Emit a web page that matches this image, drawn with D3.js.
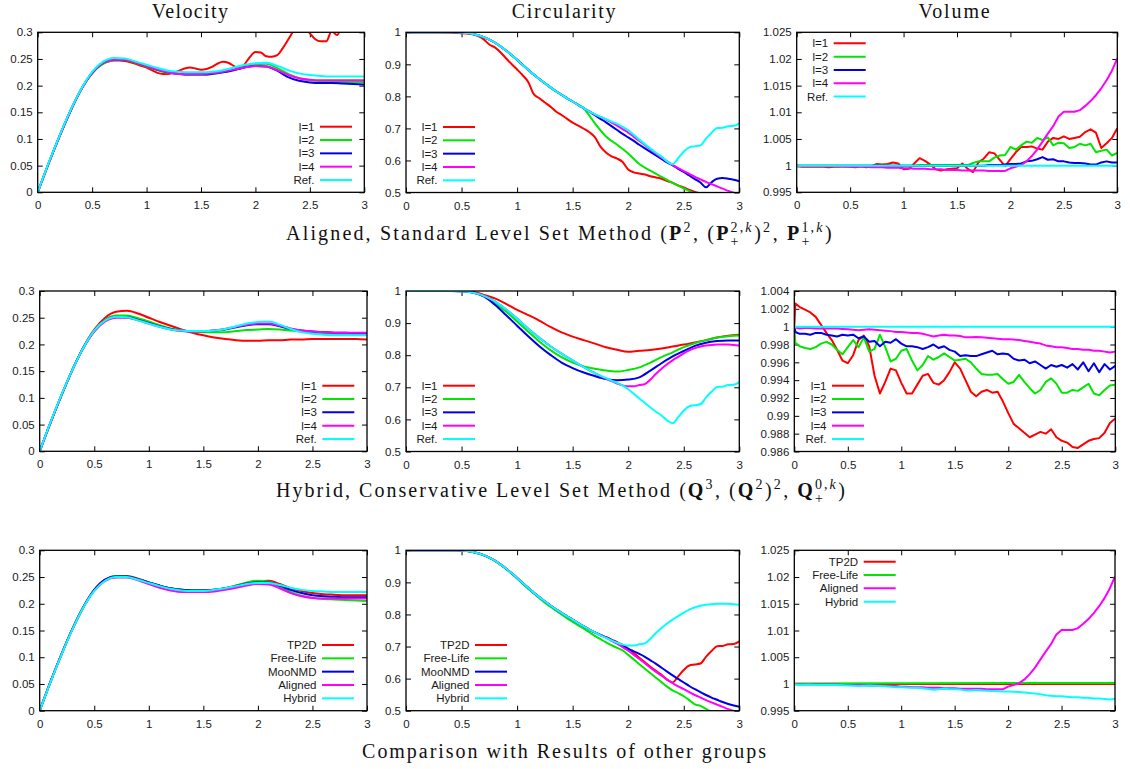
<!DOCTYPE html>
<html>
<head>
<meta charset="utf-8">
<script src="https://cdn.jsdelivr.net/npm/d3@7"></script>
<style>
  body { margin: 0; background: #fff; }
  text { white-space: pre; }
</style>
</head>
<body>
<svg id="chart" width="1130" height="769"></svg>
<script>

//Time grids (x values)
var tCoarse = [0,0.1,0.2,0.3,0.4,0.5,0.6,0.7,0.8,0.9,1,1.1,1.2,1.3,1.4,1.5,1.6,1.7,1.8,1.9,2,2.1,2.2,2.3,2.4,2.5,2.6,2.7,2.8,2.9,3];
var tFine = [0,0.05,0.1,0.15,0.2,0.25,0.3,0.35,0.4,0.45,0.5,0.55,0.6,0.65,0.7,0.75,0.8,0.85,0.9,0.95,
  1,1.05,1.1,1.15,1.2,1.25,1.3,1.35,1.4,1.45,1.5,1.55,1.6,1.65,1.7,1.75,1.8,1.85,1.9,1.95,
  2,2.05,2.1,2.15,2.2,2.25,2.3,2.35,2.4,2.45,2.5,2.55,2.6,2.65,2.7,2.75,2.8,2.85,2.9,2.95,3];
var tHyb = [0,0.01,0.05,0.1,0.15,0.2,0.25,0.3,0.35,0.4,0.45,0.5,0.55,0.6,0.65,0.7,0.75,0.8,0.85,0.9,0.95,
  1,1.05,1.1,1.15,1.2,1.25,1.3,1.35,1.4,1.45,1.5,1.55,1.6,1.65,1.7,1.75,1.8,1.85,1.9,1.95,
  2,2.05,2.1,2.15,2.2,2.25,2.3,2.35,2.4,2.45,2.5,2.55,2.6,2.65,2.7,2.75,2.8,2.85,2.9,2.95,3];
var tEnds = [0,3];

//Tick values
var xTicks = [0,0.5,1,1.5,2,2.5,3];
var velTicks = [0,0.05,0.1,0.15,0.2,0.25,0.3];
var circTicks = [0.5,0.6,0.7,0.8,0.9,1];
var volAlignedTicks = [0.995,1,1.005,1.01,1.015,1.02,1.025];
var volHybridTicks = [0.986,0.988,0.99,0.992,0.994,0.996,0.998,1,1.002,1.004];

//Velocity, aligned (tFine for l=1, tCoarse for the rest)
var velAlignedL1 = [0,0.027,0.054,0.08,0.105,0.129,0.152,0.173,0.193,0.21,
  0.223,0.234,0.241,0.245,0.247,0.247,0.246,0.244,0.241,0.237,
  0.234,0.229,0.224,0.222,0.222,0.224,0.228,0.232,0.234,0.232,
  0.230,0.231,0.235,0.241,0.245,0.243,0.237,0.231,0.240,0.254,
  0.263,0.262,0.255,0.254,0.257,0.270,0.286,0.303,0.318,0.312,
  0.298,0.287,0.283,0.283,0.302,0.295,0.315,0.330,0.340,0.345,0.350];
var velAlignedL2 = [0,0.054,0.105,0.152,0.193,0.223,0.241,0.248,0.248,0.243,0.236,0.229,0.224,0.222,0.221,0.221,0.222,0.225,0.230,0.236,0.240,0.241,0.233,0.222,0.214,0.210,0.208,0.207,0.207,0.207,0.207];
var velAlignedL3 = [0,0.054,0.105,0.152,0.193,0.224,0.243,0.249,0.249,0.244,0.237,0.230,0.225,0.222,0.221,0.221,0.222,0.225,0.229,0.234,0.237,0.236,0.228,0.216,0.209,0.206,0.205,0.205,0.204,0.203,0.202];
var velAlignedL4 = [0,0.054,0.105,0.152,0.193,0.224,0.243,0.249,0.249,0.244,0.237,0.230,0.225,0.222,0.222,0.222,0.223,0.226,0.230,0.234,0.237,0.236,0.229,0.220,0.214,0.211,0.210,0.210,0.210,0.210,0.210];
var velRef = [0,0.055,0.106,0.153,0.194,0.226,0.245,0.252,0.251,0.245,0.239,0.233,0.228,0.226,0.225,0.225,0.226,0.229,0.234,0.239,0.242,0.243,0.237,0.229,0.223,0.220,0.218,0.217,0.217,0.217,0.217];

//Velocity, hybrid (tCoarse)
var velHybridL1 = [0,0.054,0.105,0.153,0.195,0.228,0.250,0.261,0.263,0.258,0.250,0.242,0.235,0.228,0.222,0.217,0.213,0.210,0.208,0.207,0.207,0.208,0.208,0.209,0.209,0.210,0.210,0.210,0.210,0.210,0.209];
var velHybridL2 = [0,0.054,0.105,0.153,0.194,0.226,0.246,0.254,0.254,0.249,0.243,0.236,0.230,0.226,0.224,0.223,0.223,0.223,0.225,0.227,0.228,0.229,0.228,0.226,0.224,0.222,0.221,0.220,0.219,0.219,0.218];
var velHybridL3 = [0,0.054,0.105,0.153,0.194,0.225,0.245,0.252,0.251,0.246,0.240,0.234,0.229,0.226,0.225,0.225,0.226,0.228,0.232,0.236,0.238,0.238,0.234,0.229,0.226,0.224,0.223,0.222,0.222,0.221,0.221];
var velHybridL4 = [0,0.054,0.105,0.152,0.193,0.224,0.243,0.250,0.250,0.245,0.239,0.233,0.228,0.225,0.224,0.224,0.226,0.229,0.233,0.237,0.239,0.239,0.235,0.230,0.226,0.224,0.223,0.222,0.222,0.222,0.222];

//Velocity, other groups (tCoarse)
var velTP2D = [0,0.055,0.106,0.153,0.194,0.226,0.245,0.252,0.252,0.247,0.240,0.234,0.229,0.226,0.225,0.225,0.226,0.229,0.234,0.239,0.242,0.243,0.237,0.229,0.224,0.220,0.218,0.217,0.216,0.216,0.216];
var velFreeLife = [0,0.055,0.106,0.153,0.194,0.226,0.245,0.252,0.251,0.246,0.240,0.234,0.229,0.226,0.225,0.225,0.226,0.229,0.234,0.240,0.243,0.241,0.232,0.222,0.215,0.211,0.209,0.208,0.207,0.206,0.205];
var velMooNMD = [0,0.055,0.106,0.153,0.194,0.226,0.245,0.251,0.251,0.246,0.240,0.234,0.229,0.226,0.225,0.225,0.226,0.229,0.233,0.238,0.240,0.240,0.234,0.226,0.220,0.216,0.214,0.213,0.212,0.212,0.212];

//Circularity (tFine unless noted)
var circRef = [1,1,1,1,1,1,1,1,1,1,
  0.999,0.998,0.995,0.991,0.985,0.977,0.968,0.956,0.943,0.929,
  0.914,0.898,0.883,0.868,0.854,0.841,0.828,0.816,0.805,0.794,
  0.784,0.773,0.763,0.753,0.744,0.736,0.729,0.721,0.714,0.705,
  0.694,0.680,0.665,0.651,0.637,0.624,0.612,0.597,0.588,0.607,
  0.627,0.641,0.644,0.647,0.668,0.686,0.701,0.702,0.707,0.708,0.716];
var circAlignedL1 = [1,1,1,1,1,1,1,1,0.999,0.998,
  0.997,0.996,0.994,0.988,0.978,0.962,0.953,0.938,0.919,0.901,
  0.884,0.866,0.845,0.807,0.794,0.781,0.768,0.753,0.742,0.730,
  0.718,0.709,0.699,0.688,0.673,0.643,0.625,0.613,0.606,0.595,
  0.572,0.563,0.559,0.556,0.551,0.547,0.543,0.536,0.530,0.522,
  0.516,0.508,0.502,0.497,0.492,0.488,0.484,0.480,0.476,0.472,0.468];
var circAlignedL2 = [1,1,1,1,1,0.999,0.995,0.985,0.968,0.943,0.914,0.883,0.854,0.828,0.805,0.784,0.762,0.716,0.675,0.649,0.622,0.589,0.568,0.549,0.530,0.513,0.496,0.482,0.470,0.460,0.450]; // tCoarse
var circAlignedL3 = [1,1,1,1,1,1,1,1,1,1,
  0.999,0.998,0.995,0.991,0.985,0.977,0.968,0.956,0.943,0.929,
  0.914,0.898,0.883,0.868,0.854,0.841,0.828,0.816,0.805,0.794,
  0.784,0.773,0.763,0.753,0.741,0.730,0.719,0.707,0.695,0.683,
  0.672,0.661,0.649,0.638,0.627,0.616,0.605,0.594,0.585,0.574,
  0.564,0.553,0.542,0.531,0.516,0.532,0.543,0.545,0.543,0.540,0.535];
var circAlignedL4 = [1,1,1,1,1,1,1,1,1,1,
  0.999,0.998,0.995,0.991,0.985,0.977,0.968,0.956,0.943,0.929,
  0.914,0.898,0.883,0.868,0.854,0.841,0.828,0.816,0.805,0.794,
  0.784,0.773,0.763,0.753,0.744,0.736,0.728,0.718,0.709,0.698,
  0.687,0.674,0.661,0.648,0.634,0.621,0.609,0.597,0.586,0.576,
  0.567,0.558,0.549,0.541,0.533,0.526,0.519,0.512,0.505,0.499,0.493];
var circHybridL1 = [1,1,1,1,1,1,0.998,0.988,0.977,0.960,0.941,0.925,0.908,0.888,0.871,0.858,0.847,0.836,0.825,0.817,0.811,0.814,0.816,0.821,0.827,0.833,0.840,0.847,0.855,0.861,0.864]; // tCoarse
var circHybridL2 = [1,1,1,1,1,0.999,0.995,0.984,0.962,0.936,0.905,0.873,0.843,0.816,0.794,0.777,0.765,0.758,0.752,0.749,0.754,0.762,0.777,0.794,0.809,0.825,0.837,0.847,0.855,0.859,0.861]; // tCoarse
var circHybridL3 = [1,1,1,1,1,0.999,0.995,0.983,0.957,0.925,0.892,0.859,0.828,0.801,0.777,0.760,0.746,0.735,0.726,0.722,0.724,0.731,0.752,0.775,0.796,0.813,0.829,0.839,0.844,0.846,0.846]; // tCoarse
var circHybridL4 = [1,1,1,1,1,1,1,1,1,1,
  0.999,0.998,0.995,0.991,0.985,0.977,0.968,0.956,0.943,0.929,
  0.914,0.898,0.883,0.868,0.854,0.841,0.828,0.816,0.805,0.794,
  0.784,0.773,0.763,0.753,0.744,0.735,0.727,0.719,0.712,0.706,
  0.703,0.703,0.707,0.710,0.724,0.742,0.758,0.772,0.784,0.795,
  0.806,0.815,0.822,0.827,0.830,0.832,0.833,0.833,0.833,0.832,0.830];
var circFreeLife = [1,1,1,1,1,1,1,1,1,1,
  0.999,0.998,0.995,0.990,0.984,0.976,0.967,0.955,0.942,0.927,
  0.912,0.896,0.880,0.865,0.851,0.837,0.824,0.812,0.800,0.788,
  0.777,0.766,0.756,0.745,0.733,0.723,0.713,0.704,0.696,0.688,
  0.674,0.660,0.645,0.631,0.617,0.603,0.589,0.575,0.563,0.555,
  0.545,0.533,0.520,0.515,0.506,0.497,0.490,0.483,0.476,0.470,0.464];
var circMooNMD = [1,1,1,1,1,1,1,1,1,1,
  0.999,0.998,0.995,0.991,0.985,0.977,0.968,0.956,0.943,0.929,
  0.914,0.898,0.883,0.868,0.854,0.841,0.828,0.816,0.805,0.794,
  0.784,0.773,0.763,0.753,0.744,0.736,0.729,0.721,0.712,0.702,
  0.693,0.685,0.677,0.668,0.657,0.646,0.634,0.622,0.610,0.599,
  0.588,0.577,0.567,0.558,0.549,0.541,0.534,0.527,0.521,0.516,0.512];

//Volume, aligned (tFine)
var volAlignedL1 = [0.9999,0.9998,0.9998,0.9998,0.9998,0.9998,0.9997,0.9998,0.9998,0.9999,
  0.9998,0.9997,0.9999,0.9997,0.9999,1.0003,1.0002,1.0003,1.0006,1.0004,
  0.9993,0.9994,1.0004,1.0014,1.0009,1.0002,0.9993,0.9991,0.9993,0.9994,
  0.9995,1.0004,0.9994,0.9988,1.0006,1.0013,1.0025,1.0023,1.0011,0.9999,
  1.0012,1.0025,1.0035,1.0035,1.0036,1.0032,1.0030,1.0045,1.0052,1.0050,
  1.0055,1.0050,1.0052,1.0054,1.0063,1.0068,1.0062,1.0033,1.0042,1.0052,1.0070];
var volAlignedL2 = [1,1,1,1,1,1,1,1,1,1,
  1,1,1,1,1,1,1,1,1,1,
  1,1,1,1.0001,1.0001,1.0001,1.0001,1.0001,1.0001,1.0001,
  1.0001,1.0001,1.0001,1.0005,1.0008,1.0008,1.0008,1.0015,1.0019,1.0020,
  1.0035,1.0030,1.0038,1.0045,1.0043,1.0052,1.0048,1.0053,1.0038,1.0043,
  1.0042,1.0033,1.0035,1.0041,1.0038,1.0041,1.0025,1.0028,1.0030,1.0019,1.0024];
var volAlignedL3 = [1,1,1,1,1,1,1,1,1,1,
  1,1,1,1,1,1,1,1,1,1,
  1,1,1,1,1,1,1,1,1,1,
  1,1,1,1,1,1,1.0001,1.0001,1.0001,1.0002,
  1.0003,1.0003,1.0004,1.0008,1.0009,1.0012,1.0016,1.0011,1.0012,1.0008,
  1.0008,1.0006,1.0005,1.0005,1.0004,1.0002,1.0002,1.0006,1.0008,1.0006,1.0006];
var volAlignedL4 = [1,0.9999,0.9999,0.9999,0.9999,0.9999,0.9999,0.9999,0.9999,0.9998,
  0.9998,0.9998,0.9998,0.9998,0.9997,0.9997,0.9997,0.9996,0.9996,0.9996,
  0.9995,0.9995,0.9994,0.9994,0.9994,0.9993,0.9993,0.9993,0.9992,0.9992,
  0.9992,0.9991,0.9991,0.9991,0.9991,0.9991,0.9990,0.9990,0.9990,0.9990,
  0.9995,0.9998,1.0001,1.0008,1.0018,1.0030,1.0045,1.0060,1.0074,1.0092,
  1.0101,1.0101,1.0101,1.0104,1.0112,1.0121,1.0132,1.0145,1.0160,1.0178,1.0201];
var volRef = [1,1]; // tEnds

//Volume, hybrid (tHyb)
var volHybridL1 = [1.0,1.0026,1.0022,
  1.0019,1.0016,1.0011,1.0002,0.9993,0.9985,0.9974,0.9962,0.9959,0.9968,
  0.9985,0.9990,0.9978,0.9945,0.9925,0.9938,0.9953,0.9951,0.9937,0.9925,
  0.9925,0.9935,0.9945,0.9947,0.9937,0.9935,0.9940,0.9949,0.9960,0.9953,
  0.9940,0.9927,0.9922,0.9927,0.9929,0.9926,0.9927,0.9916,0.9903,0.9891,
  0.9886,0.9881,0.9876,0.9879,0.9882,0.9880,0.9885,0.9876,0.9872,0.9870,
  0.9865,0.9864,0.9868,0.9872,0.9874,0.9875,0.9881,0.9892,0.9897];
var volHybridL2 = [1.0,0.9982,0.9978,
  0.9976,0.9975,0.9977,0.9981,0.9983,0.9980,0.9974,0.9969,0.9977,0.9985,
  0.9977,0.9988,0.9972,0.9975,0.9991,0.9977,0.9961,0.9964,0.9973,0.9975,
  0.9962,0.9951,0.9957,0.9967,0.9963,0.9966,0.9970,0.9966,0.9962,0.9963,
  0.9964,0.9960,0.9953,0.9947,0.9946,0.9946,0.9947,0.9941,0.9936,0.9938,
  0.9946,0.9938,0.9931,0.9925,0.9929,0.9938,0.9942,0.9936,0.9926,0.9926,
  0.9929,0.9928,0.9932,0.9936,0.9925,0.9923,0.9929,0.9934,0.9935];
var volHybridL3 = [1.0,0.9994,0.9992,
  0.9992,0.9991,0.9993,0.9993,0.9991,0.9990,0.9989,0.9991,0.9990,0.9991,
  0.9987,0.9989,0.9983,0.9984,0.9978,0.9983,0.9982,0.9986,0.9981,0.9978,
  0.9978,0.9977,0.9975,0.9977,0.9980,0.9976,0.9978,0.9974,0.9972,0.9967,
  0.9968,0.9967,0.9967,0.9969,0.9971,0.9973,0.9969,0.9970,0.9969,0.9964,
  0.9962,0.9963,0.9959,0.9961,0.9957,0.9953,0.9957,0.9955,0.9957,0.9954,
  0.9958,0.9952,0.9960,0.9950,0.9959,0.9949,0.9958,0.9952,0.9956];
var volHybridL4 = [1.0,0.9999,0.9998,
  0.99985,0.99985,0.9998,0.9998,0.9998,0.9998,0.9998,0.99975,0.9997,0.99965,
  0.9996,0.99965,0.9997,0.99965,0.9996,0.99955,0.9995,0.9994,0.9994,0.99935,
  0.9993,0.9993,0.9992,0.99905,0.9989,0.9990,0.9991,0.9990,0.9990,0.99895,
  0.9988,0.9988,0.99885,0.9988,0.99875,0.9987,0.99865,0.9986,0.9986,0.99855,
  0.9985,0.9984,0.9983,0.9982,0.9981,0.9979,0.9978,0.9977,0.9977,0.9976,
  0.9975,0.9975,0.9974,0.9974,0.9973,0.9973,0.9972,0.9971,0.9972];

//Volume, other groups (tEnds)
var volTP2D = [1,1];
var volFreeLife = [1.0001,1.0002];

//Colors, gnuplot style
var red = "#ff0000", green = "#00e600", blue = "#0000e6", magenta = "#ff00ff", cyan = "#00ffff";

var levelLabels = ["l=1","l=2","l=3","l=4","Ref."];

function levels(t1, v1, t2, v2, t3, v3, t4, v4, t5, v5){
  var c = [red, green, blue, magenta, cyan];
  var tt = [t1,t2,t3,t4,t5], vv = [v1,v2,v3,v4,v5];
  return levelLabels.map(function(l, i){ return {label: l, color: c[i], t: tt[i], v: vv[i]}; });
}

var smooth = d3.curveMonotoneX, linear = d3.curveLinear;

var panels = [
  {x0: 37.7, x1: 364.3, y0: 32.3, y1: 192.3, yDomain: [0,0.3], yTicks: velTicks, curve: smooth,
   legend: {lineEnd: 314.3, firstRow: 94.4},
   series: levels(tFine, velAlignedL1, tCoarse, velAlignedL2, tCoarse, velAlignedL3, tCoarse, velAlignedL4, tCoarse, velRef)},
  {x0: 406, x1: 739.3, y0: 32.3, y1: 192.5, yDomain: [0.5,1], yTicks: circTicks, curve: smooth,
   legend: {lineEnd: 69, firstRow: 94.7},
   series: levels(tFine, circAlignedL1, tCoarse, circAlignedL2, tFine, circAlignedL3, tFine, circAlignedL4, tFine, circRef)},
  {x0: 796.7, x1: 1117.3, y0: 32.3, y1: 192.3, yDomain: [0.995,1.025], yTicks: volAlignedTicks, curve: linear,
   legend: {lineEnd: 69, firstRow: 11},
   series: levels(tFine, volAlignedL1, tFine, volAlignedL2, tFine, volAlignedL3, tFine, volAlignedL4, tEnds, volRef)},

  {x0: 39.7, x1: 367, y0: 291, y1: 451.3, yDomain: [0,0.3], yTicks: velTicks, curve: smooth,
   legend: {lineEnd: 314.6, firstRow: 94.7},
   series: levels(tCoarse, velHybridL1, tCoarse, velHybridL2, tCoarse, velHybridL3, tCoarse, velHybridL4, tCoarse, velRef)},
  {x0: 406, x1: 739.3, y0: 291, y1: 451.5, yDomain: [0.5,1], yTicks: circTicks, curve: smooth,
   legend: {lineEnd: 69, firstRow: 94.7},
   series: levels(tCoarse, circHybridL1, tCoarse, circHybridL2, tCoarse, circHybridL3, tFine, circHybridL4, tFine, circRef)},
  {x0: 794.3, x1: 1115.3, y0: 291, y1: 451.5, yDomain: [0.986,1.004], yTicks: volHybridTicks, curve: linear,
   legend: {lineEnd: 69.7, firstRow: 94.7},
   series: levels(tHyb, volHybridL1, tHyb, volHybridL2, tHyb, volHybridL3, tHyb, volHybridL4, tEnds, volRef)},

  {x0: 39.7, x1: 367, y0: 550.3, y1: 710.7, yDomain: [0,0.3], yTicks: velTicks, curve: smooth,
   legend: {lineEnd: 314.3, firstRow: 94.7},
   series: [
     {label: "TP2D", color: red, t: tCoarse, v: velTP2D},
     {label: "Free-Life", color: green, t: tCoarse, v: velFreeLife},
     {label: "MooNMD", color: blue, t: tCoarse, v: velMooNMD},
     {label: "Aligned", color: magenta, t: tCoarse, v: velAlignedL4},
     {label: "Hybrid", color: cyan, t: tCoarse, v: velHybridL4}
   ]},
  {x0: 406, x1: 739.3, y0: 550.3, y1: 710.7, yDomain: [0.5,1], yTicks: circTicks, curve: smooth,
   legend: {lineEnd: 101, firstRow: 94.7},
   series: [
     {label: "TP2D", color: red, t: tFine, v: circRef},
     {label: "Free-Life", color: green, t: tFine, v: circFreeLife},
     {label: "MooNMD", color: blue, t: tFine, v: circMooNMD},
     {label: "Aligned", color: magenta, t: tFine, v: circAlignedL4},
     {label: "Hybrid", color: cyan, t: tFine, v: circHybridL4}
   ]},
  {x0: 794.3, x1: 1115, y0: 550.3, y1: 710.7, yDomain: [0.995,1.025], yTicks: volAlignedTicks, curve: linear,
   legend: {lineEnd: 101.4, firstRow: 11.4},
   series: [
     {label: "TP2D", color: red, t: tEnds, v: volTP2D},
     {label: "Free-Life", color: green, t: tEnds, v: volFreeLife},
     {label: "Aligned", color: magenta, t: tFine, v: volAlignedL4},
     {label: "Hybrid", color: cyan, t: tHyb, v: volHybridL4}
   ]}
];

var svg = d3.select("#chart");
svg.append("rect").attr("width", 1130).attr("height", 769).attr("fill", "#fff");

var sansFont = "'Liberation Sans', Arial, sans-serif";
var serifFont = "'Liberation Serif', 'Times New Roman', serif";
var fmt = d3.format("~g");
var tick = 5;

panels.forEach(function(p, pi){

  var x = d3.scaleLinear().domain([0,3]).range([p.x0, p.x1]);
  var y = d3.scaleLinear().domain(p.yDomain).range([p.y1, p.y0]);

  var g = svg.append("g").attr("class", "panel");

  //Clip for data lines
  svg.append("clipPath").attr("id", "clip" + pi)
    .append("rect")
    .attr("x", p.x0).attr("y", p.y0)
    .attr("width", p.x1 - p.x0).attr("height", p.y1 - p.y0);

  //Axes, ticks inward and mirrored
  var axes = [
    {gen: d3.axisBottom(x).tickValues(xTicks).tickFormat(fmt).tickPadding(9), tr: "translate(0," + p.y1 + ")"},
    {gen: d3.axisTop(x).tickValues(xTicks).tickFormat(""), tr: "translate(0," + p.y0 + ")"},
    {gen: d3.axisLeft(y).tickValues(p.yTicks).tickFormat(fmt).tickPadding(5), tr: "translate(" + p.x0 + ",0)"},
    {gen: d3.axisRight(y).tickValues(p.yTicks).tickFormat(""), tr: "translate(" + p.x1 + ",0)"}
  ];
  axes.forEach(function(a){
    var ag = g.append("g")
      .attr("transform", a.tr)
      .call(a.gen.tickSize(-tick));
    ag.attr("font-family", sansFont).attr("font-size", 11.5);
    ag.select(".domain").remove();
    ag.selectAll(".tick line").attr("stroke", "#000").attr("stroke-width", 1);
    ag.selectAll(".tick text").attr("fill", "#1a1a1a");
  });

  //Data lines
  var line = d3.line()
    .x(function(d){ return x(d[0]); })
    .y(function(d){ return y(d[1]); })
    .curve(p.curve);

  var lines = g.append("g").attr("clip-path", "url(#clip" + pi + ")");
  p.series.forEach(function(s){
    lines.append("path")
      .datum(d3.zip(s.t, s.v))
      .attr("d", line)
      .attr("fill", "none")
      .attr("stroke", s.color)
      .attr("stroke-width", 2)
      .attr("stroke-linejoin", "round");
  });

  //Border
  g.append("rect")
    .attr("x", p.x0).attr("y", p.y0)
    .attr("width", p.x1 - p.x0).attr("height", p.y1 - p.y0)
    .attr("fill", "none").attr("stroke", "#000").attr("stroke-width", 1.3);

  //Legend
  var lx = p.x0 + p.legend.lineEnd;
  var rowH = 13.33;
  var key = g.append("g").attr("font-family", sansFont).attr("font-size", 11.5);
  p.series.forEach(function(s, i){
    var ry = p.y0 + p.legend.firstRow + i * rowH;
    key.append("line")
      .attr("x1", lx - 32).attr("x2", lx)
      .attr("y1", ry).attr("y2", ry)
      .attr("stroke", s.color).attr("stroke-width", 2);
    key.append("text")
      .attr("x", lx - 37.5).attr("y", ry).attr("dy", "0.35em")
      .attr("text-anchor", "end").attr("fill", "#1a1a1a")
      .text(s.label);
  });
});

//Rich text with bold, sup and sub; letter spacing stretches it to a target width
function buildRich(parts, fs, ls){
  var text = svg.append("text")
    .attr("font-family", serifFont).attr("font-size", fs).attr("fill", "#111")
    .attr("letter-spacing", ls);
  var shift = 0, pendingDx = 0, chars = 0;

  function span(str, o, targetShift, size){
    var sp = text.append("tspan").text(str)
      .attr("dy", targetShift - shift)
      .attr("font-size", size);
    if (pendingDx) sp.attr("dx", pendingDx);
    pendingDx = 0;
    if (o.b) sp.attr("font-weight", "bold");
    if (o.i) sp.attr("font-style", "italic");
    shift = targetShift;
    chars += str.length;
    return sp.node().getComputedTextLength();
  }

  parts.forEach(function(pt){
    if (pt.t !== undefined) {
      span(pt.t, pt, 0, fs);
    } else {
      var supW = 0;
      pt.sup.forEach(function(q){ supW += span(q.t, q, -0.42 * fs, 0.7 * fs); });
      if (pt.sub) {
        pendingDx = -supW;
        var subW = span(pt.sub, {}, 0.32 * fs, 0.7 * fs);
        pendingDx = Math.max(0, supW - subW) + 0.5;
      } else {
        pendingDx = 0.5;
      }
    }
  });
  return {text: text, chars: chars};
}

function richText(parts, cx, baseline, targetW, fs){
  var first = buildRich(parts, fs, 0);
  var w0 = first.text.node().getBBox().width;
  first.text.remove();
  var ls = Math.max(0, (targetW - w0) / first.chars);
  var t = buildRich(parts, fs, ls).text;
  var bb = t.node().getBBox();
  t.attr("transform", "translate(" + (cx - (bb.x + bb.width / 2)) + "," + baseline + ")");
  return t;
}

//Column titles
richText([{t: "Velocity"}], 190.5, 18.3, 77.7, 20);
richText([{t: "Circularity"}], 564.5, 18.3, 105.6, 20);
richText([{t: "Volume"}], 955, 18.3, 73.3, 20);

//Row captions
richText([
  {t: "Aligned, Standard Level Set Method ("},
  {t: "P", b: true}, {sup: [{t: "2"}]},
  {t: ", ("},
  {t: "P", b: true}, {sup: [{t: "2,"}, {t: "k", i: true}], sub: "+"},
  {t: ")"}, {sup: [{t: "2"}]},
  {t: ", "},
  {t: "P", b: true}, {sup: [{t: "1,"}, {t: "k", i: true}], sub: "+"},
  {t: ")"}
], 560, 240, 552, 20);

richText([
  {t: "Hybrid, Conservative Level Set Method ("},
  {t: "Q", b: true}, {sup: [{t: "3"}]},
  {t: ", ("},
  {t: "Q", b: true}, {sup: [{t: "2"}]},
  {t: ")"}, {sup: [{t: "2"}]},
  {t: ", "},
  {t: "Q", b: true}, {sup: [{t: "0,"}, {t: "k", i: true}], sub: "+"},
  {t: ")"}
], 561.5, 497, 573, 20);

richText([{t: "Comparison with Results of other groups"}], 565, 757.5, 406, 20);

</script>
</body>
</html>
